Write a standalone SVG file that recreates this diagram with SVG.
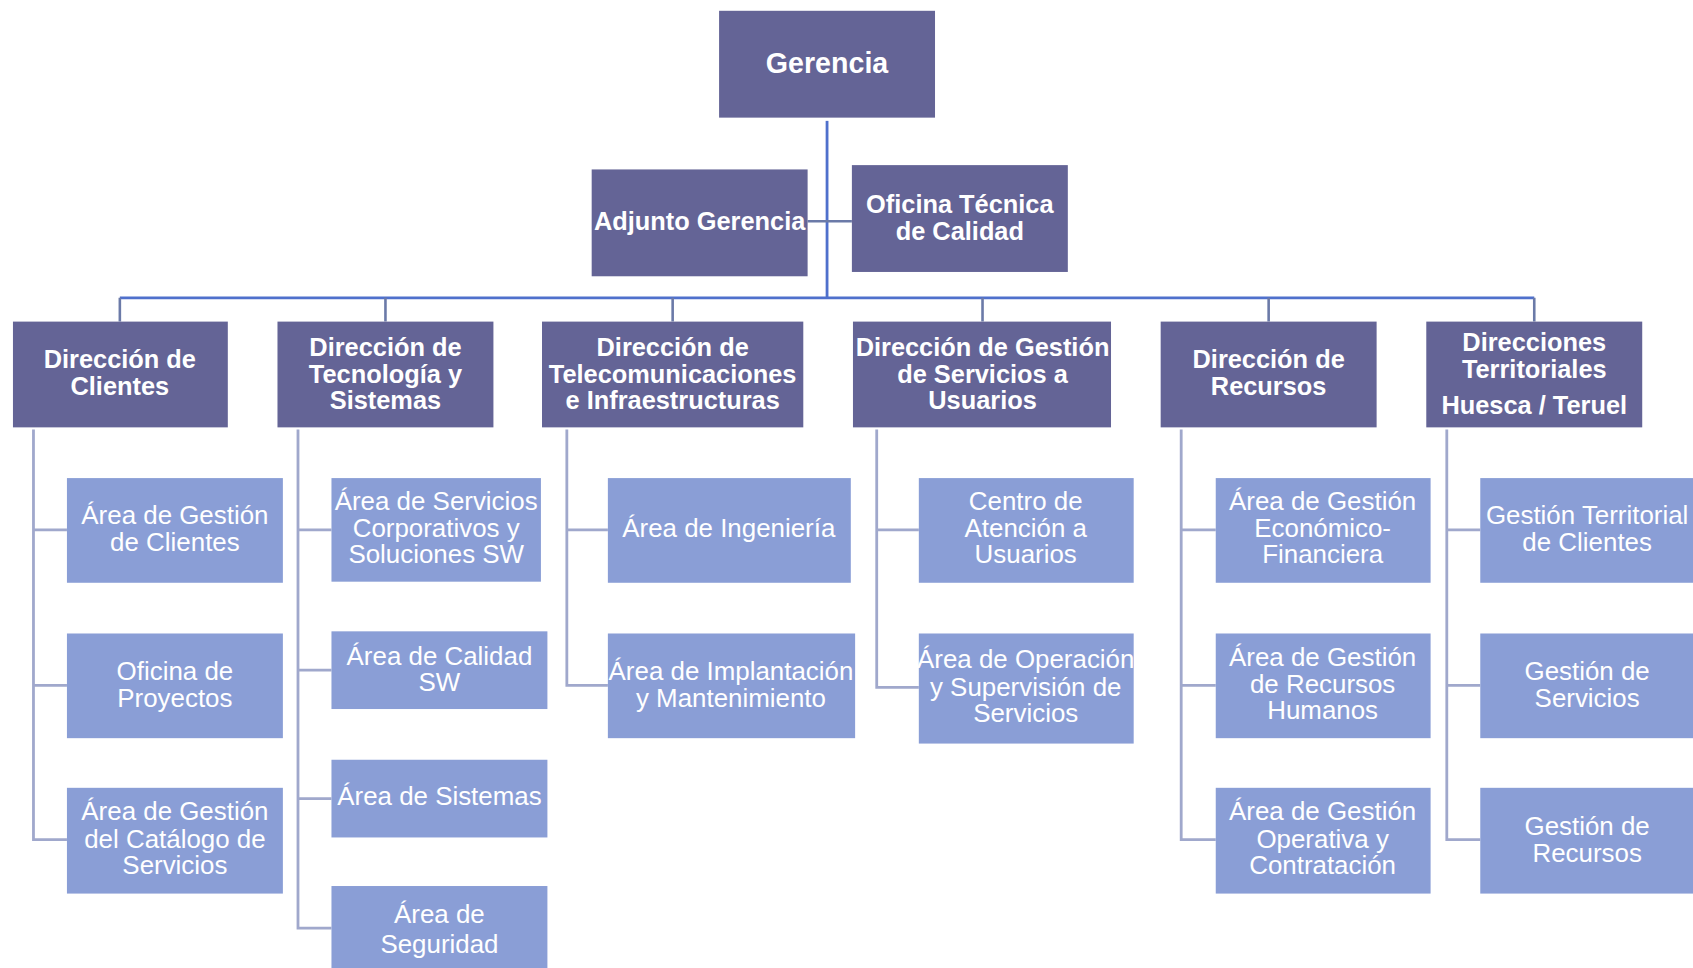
<svg xmlns="http://www.w3.org/2000/svg" width="1693" height="968" viewBox="0 0 1693 968">
<style>
.d{fill:#646496}
.l{fill:#8a9ed6}
.td{font-family:"Liberation Sans",Arial,sans-serif;font-weight:bold;font-size:23.5px;fill:#fff;text-anchor:middle}
.tl{font-family:"Liberation Sans",Arial,sans-serif;font-size:24px;fill:#fff;text-anchor:middle}
.m{stroke:#4f70cc;stroke-width:2.6;fill:none}
.b{stroke:#6b7aa8;stroke-width:2.4;fill:none}
.s{stroke:#a0a8cc;stroke-width:2.6;fill:none}
</style>
<rect width="1693" height="968" fill="#fff"/>
<g transform="scale(1.0797 1.0792)">
<g id="connectors">
<path class="m" d="M766 112V276"/>
<path class="b" d="M748 205H789"/>
<path class="m" d="M111 276H1421"/>
<path class="b" d="M111 276V298M357 276V298M623 276V298M910 276V298M1175 276V298M1421 276V298"/>
<path class="s" d="M31 398V778H62M31 491H62M31 635H62"/>
<path class="s" d="M276 398V860H307M276 491H307M276 621H307M276 740H307"/>
<path class="s" d="M525 398V635H563M525 491H563"/>
<path class="s" d="M812 398V637H851M812 491H851"/>
<path class="s" d="M1094 398V778H1126M1094 491H1126M1094 635H1126"/>
<path class="s" d="M1340 398V778H1371M1340 491H1371M1340 635H1371"/>
</g>
<g id="gerencia"><rect class="d" x="666" y="10" width="200" height="99"/><text class="td" x="766" y="68" style="font-size:26.5px">Gerencia</text></g>
<g id="adjunto"><rect class="d" x="548" y="157" width="200" height="99"/><text class="td" x="648" y="213">Adjunto Gerencia</text></g>
<g id="oficina-tecnica"><rect class="d" x="789" y="153" width="200" height="99"/><text class="td" x="889" y="197">Oficina Técnica</text><text class="td" x="889" y="222">de Calidad</text></g>

<g id="dir-clientes"><rect class="d" x="12" y="298" width="199" height="98"/><text class="td" x="111" y="341">Dirección de</text><text class="td" x="111" y="366">Clientes</text></g>
<g id="dir-tecnologia"><rect class="d" x="257" y="298" width="200" height="98"/><text class="td" x="357" y="330">Dirección de</text><text class="td" x="357" y="355">Tecnología y</text><text class="td" x="357" y="379">Sistemas</text></g>
<g id="dir-telecom"><rect class="d" x="502" y="298" width="242" height="98"/><text class="td" x="623" y="330">Dirección de</text><text class="td" x="623" y="355">Telecomunicaciones</text><text class="td" x="623" y="379">e Infraestructuras</text></g>
<g id="dir-gestion"><rect class="d" x="790" y="298" width="239" height="98"/><text class="td" x="910" y="330">Dirección de Gestión</text><text class="td" x="910" y="355">de Servicios a</text><text class="td" x="910" y="379">Usuarios</text></g>
<g id="dir-recursos"><rect class="d" x="1075" y="298" width="200" height="98"/><text class="td" x="1175" y="341">Dirección de</text><text class="td" x="1175" y="366">Recursos</text></g>
<g id="dir-territoriales"><rect class="d" x="1321" y="298" width="200" height="98"/><text class="td" x="1421" y="325">Direcciones</text><text class="td" x="1421" y="350">Territoriales</text><text class="td" x="1421" y="384">Huesca / Teruel</text></g>

<g id="a-gestion-clientes"><rect class="l" x="62" y="443" width="200" height="97"/><text class="tl" x="162" y="486">Área de Gestión</text><text class="tl" x="162" y="511">de Clientes</text></g>
<g id="a-oficina-proyectos"><rect class="l" x="62" y="587" width="200" height="97"/><text class="tl" x="162" y="630">Oficina de</text><text class="tl" x="162" y="655">Proyectos</text></g>
<g id="a-catalogo"><rect class="l" x="62" y="730" width="200" height="98"/><text class="tl" x="162" y="760">Área de Gestión</text><text class="tl" x="162" y="786">del Catálogo de</text><text class="tl" x="162" y="810">Servicios</text></g>

<g id="a-servicios-corp"><rect class="l" x="307" y="443" width="194" height="96"/><text class="tl" x="404" y="473">Área de Servicios</text><text class="tl" x="404" y="498">Corporativos y</text><text class="tl" x="404" y="522">Soluciones SW</text></g>
<g id="a-calidad-sw"><rect class="l" x="307" y="585" width="200" height="72"/><text class="tl" x="407" y="616">Área de Calidad</text><text class="tl" x="407" y="640">SW</text></g>
<g id="a-sistemas"><rect class="l" x="307" y="704" width="200" height="72"/><text class="tl" x="407" y="746">Área de Sistemas</text></g>
<g id="a-seguridad"><rect class="l" x="307" y="821" width="200" height="90"/><text class="tl" x="407" y="855">Área de</text><text class="tl" x="407" y="883">Seguridad</text></g>

<g id="a-ingenieria"><rect class="l" x="563" y="443" width="225" height="97"/><text class="tl" x="675" y="498">Área de Ingeniería</text></g>
<g id="a-implantacion"><rect class="l" x="563" y="587" width="229" height="97"/><text class="tl" x="677" y="630">Área de Implantación</text><text class="tl" x="677" y="655">y Mantenimiento</text></g>

<g id="a-centro-atencion"><rect class="l" x="851" y="443" width="199" height="97"/><text class="tl" x="950" y="473">Centro de</text><text class="tl" x="950" y="498">Atención a</text><text class="tl" x="950" y="522">Usuarios</text></g>
<g id="a-operacion"><rect class="l" x="851" y="587" width="199" height="102"/><text class="tl" x="950" y="619">Área de Operación</text><text class="tl" x="950" y="645">y Supervisión de</text><text class="tl" x="950" y="669">Servicios</text></g>

<g id="a-economico"><rect class="l" x="1126" y="443" width="199" height="97"/><text class="tl" x="1225" y="473">Área de Gestión</text><text class="tl" x="1225" y="498">Económico-</text><text class="tl" x="1225" y="522">Financiera</text></g>
<g id="a-rrhh"><rect class="l" x="1126" y="587" width="199" height="97"/><text class="tl" x="1225" y="617">Área de Gestión</text><text class="tl" x="1225" y="642">de Recursos</text><text class="tl" x="1225" y="666">Humanos</text></g>
<g id="a-operativa"><rect class="l" x="1126" y="730" width="199" height="98"/><text class="tl" x="1225" y="760">Área de Gestión</text><text class="tl" x="1225" y="786">Operativa y</text><text class="tl" x="1225" y="810">Contratación</text></g>

<g id="a-territorial-clientes"><rect class="l" x="1371" y="443" width="210" height="97"/><text class="tl" x="1470" y="486">Gestión Territorial</text><text class="tl" x="1470" y="511">de Clientes</text></g>
<g id="a-gestion-servicios"><rect class="l" x="1371" y="587" width="210" height="97"/><text class="tl" x="1470" y="630">Gestión de</text><text class="tl" x="1470" y="655">Servicios</text></g>
<g id="a-gestion-recursos"><rect class="l" x="1371" y="730" width="210" height="98"/><text class="tl" x="1470" y="774">Gestión de</text><text class="tl" x="1470" y="799">Recursos</text></g>
</g>
</svg>
